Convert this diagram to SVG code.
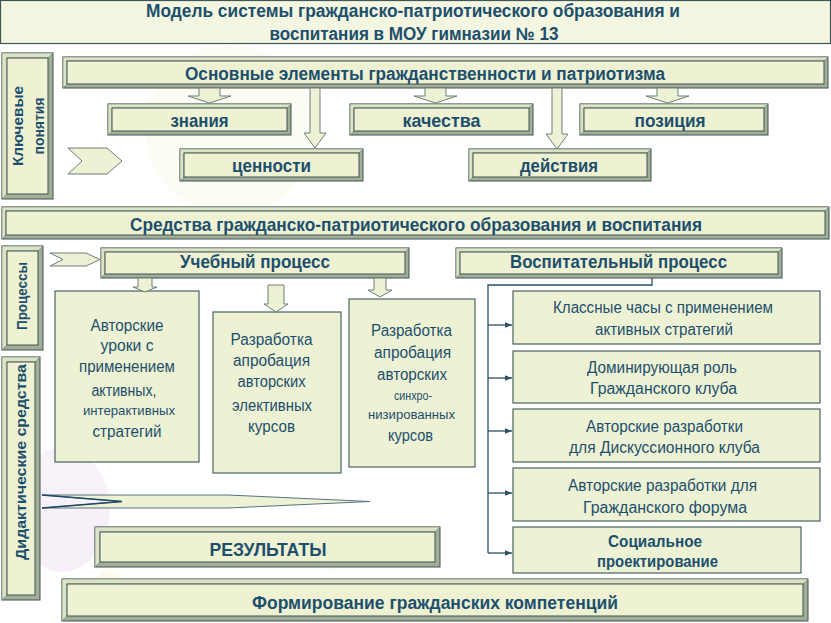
<svg xmlns="http://www.w3.org/2000/svg" width="831" height="623" viewBox="0 0 831 623">
<defs>
<style>
.bo{fill:#a3ae96;stroke:#3e5252;stroke-width:1}
.bl{fill:#dbe3c4;stroke:#6b7a70;stroke-width:0.6}
.bi{fill:#eef2d3;stroke:#3e5252;stroke-width:1}
.pb{fill:#eef2d4;stroke:#4c6262;stroke-width:1.2}
.ar{fill:#eef2d4;stroke:#6e7e7a;stroke-width:1}
.ln{fill:none;stroke:#2e4f66;stroke-width:1.3}
text{fill:#1d4f6d;text-anchor:middle}
.hn{font-family:'Liberation Sans Narrow','Liberation Sans',Arial,sans-serif;font-weight:bold}
.hb{font-family:'Liberation Sans',Arial,sans-serif;font-weight:bold}
.tn{font-family:'Liberation Sans Narrow','Liberation Sans',Arial,sans-serif;font-weight:normal}
</style>
<marker id="ah" viewBox="0 0 10 10" refX="10" refY="5" markerWidth="7" markerHeight="7" orient="auto" markerUnits="userSpaceOnUse">
<path d="M0,1 L10,5 L0,9 Z" fill="#2e4f66"/>
</marker>
</defs>
<rect x="0" y="0" width="831" height="623" fill="#ffffff"/>
<g id="decor" opacity="0.4">
<circle cx="230" cy="130" r="85" fill="#f6f8e2"/>
<ellipse cx="62" cy="510" rx="48" ry="62" fill="#eedcf2"/>
<circle cx="110" cy="585" r="14" fill="#fbf6cf"/>
<circle cx="330" cy="560" r="10" fill="#fbf6cf"/>
</g>

<g id="title">
<rect x="0.5" y="0.5" width="830" height="43" fill="#f3f6e0" stroke="#3e5656" stroke-width="1.2"/>
<text class="hn" x="413" y="17" font-size="18" textLength="534" lengthAdjust="spacingAndGlyphs">Модель системы гражданско-патриотического образования и</text>
<text class="hn" x="414" y="40" font-size="18" textLength="289" lengthAdjust="spacingAndGlyphs">воспитания в МОУ гимназии № 13</text>
</g>

<g id="klyuchevye">
<rect class="bo" x="2" y="53" width="51" height="146"/>
<polygon class="bl" points="2,53 53,53 48,58 7,58 7,194 2,199"/>
<rect class="bi" x="7" y="58" width="41" height="136"/>
<text class="hb" font-size="15" transform="translate(23,126) rotate(-90)" textLength="80" lengthAdjust="spacingAndGlyphs">Ключевые</text>
<text class="hb" font-size="15" transform="translate(44,126) rotate(-90)" textLength="57" lengthAdjust="spacingAndGlyphs">понятия</text>
</g>

<g id="osnovnye">
<rect class="bo" x="63" y="57" width="765" height="31"/>
<polygon class="bl" points="63,57 828,57 824,61 67,61 67,84 63,88"/>
<rect class="bi" x="67" y="61" width="757" height="23"/>
<text class="hn" x="425" y="80" font-size="18" textLength="480" lengthAdjust="spacingAndGlyphs">Основные элементы гражданственности и патриотизма</text>
</g>

<g id="znaniya">
<rect class="bo" x="108" y="104" width="183" height="31"/>
<polygon class="bl" points="108,104 291,104 287,108 112,108 112,131 108,135"/>
<rect class="bi" x="112" y="108" width="175" height="23"/>
<text class="hb" x="199.5" y="127" font-size="19" textLength="58" lengthAdjust="spacingAndGlyphs">знания</text>
</g>

<g id="kachestva">
<rect class="bo" x="350" y="104" width="183" height="31"/>
<polygon class="bl" points="350,104 533,104 529,108 354,108 354,131 350,135"/>
<rect class="bi" x="354" y="108" width="175" height="23"/>
<text class="hb" x="441.5" y="127" font-size="19" textLength="78" lengthAdjust="spacingAndGlyphs">качества</text>
</g>

<g id="poziciya">
<rect class="bo" x="580" y="104" width="188" height="31"/>
<polygon class="bl" points="580,104 768,104 764,108 584,108 584,131 580,135"/>
<rect class="bi" x="584" y="108" width="180" height="23"/>
<text class="hb" x="670" y="127" font-size="19" textLength="71" lengthAdjust="spacingAndGlyphs">позиция</text>
</g>

<g id="cennosti">
<rect class="bo" x="180" y="149" width="183" height="32"/>
<polygon class="bl" points="180,149 363,149 359,153 184,153 184,177 180,181"/>
<rect class="bi" x="184" y="153" width="175" height="24"/>
<text class="hb" x="271.5" y="172" font-size="19" textLength="79" lengthAdjust="spacingAndGlyphs">ценности</text>
</g>

<g id="deystviya">
<rect class="bo" x="469" y="149" width="182" height="32"/>
<polygon class="bl" points="469,149 651,149 647,153 473,153 473,177 469,181"/>
<rect class="bi" x="473" y="153" width="174" height="24"/>
<text class="hb" x="559" y="172" font-size="19" textLength="78" lengthAdjust="spacingAndGlyphs">действия</text>
</g>

<g id="sredstva">
<rect class="bo" x="2" y="207" width="827" height="32"/>
<polygon class="bl" points="2,207 829,207 825,211 6,211 6,235 2,239"/>
<rect class="bi" x="6" y="211" width="819" height="24"/>
<text class="hb" x="416" y="231" font-size="19" textLength="572" lengthAdjust="spacingAndGlyphs">Средства гражданско-патриотического образования и воспитания</text>
</g>

<g id="processy">
<rect class="bo" x="2" y="246" width="41" height="104"/>
<polygon class="bl" points="2,246 43,246 38,251 7,251 7,345 2,350"/>
<rect class="bi" x="7" y="251" width="31" height="94"/>
<text class="hb" font-size="14" transform="translate(27,296) rotate(-90)" textLength="68" lengthAdjust="spacingAndGlyphs">Процессы</text>
</g>

<g id="uchebny">
<rect class="bo" x="101" y="248" width="308" height="30"/>
<polygon class="bl" points="101,248 409,248 405,252 105,252 105,274 101,278"/>
<rect class="bi" x="105" y="252" width="300" height="22"/>
<text class="hn" x="255" y="268" font-size="18" textLength="150" lengthAdjust="spacingAndGlyphs">Учебный процесс</text>
</g>

<g id="vospitatelny">
<rect class="bo" x="456" y="248" width="326" height="30"/>
<polygon class="bl" points="456,248 782,248 778,252 460,252 460,274 456,278"/>
<rect class="bi" x="460" y="252" width="318" height="22"/>
<text class="hn" x="618.5" y="268" font-size="18" textLength="217" lengthAdjust="spacingAndGlyphs">Воспитательный процесс</text>
</g>

<g id="didakticheskie">
<rect class="bo" x="2" y="357" width="38" height="243"/>
<polygon class="bl" points="2,357 40,357 35,362 7,362 7,595 2,600"/>
<rect class="bi" x="7" y="362" width="28" height="233"/>
<text class="hb" font-size="14" transform="translate(26,462) rotate(-90)" textLength="196" lengthAdjust="spacingAndGlyphs">Дидактические средства</text>
</g>

<g id="avtorskie-uroki">
<rect class="pb" x="55" y="291" width="144" height="171"/>
<text class="tn" x="127" y="331" font-size="16" textLength="73" lengthAdjust="spacingAndGlyphs">Авторские</text>
<text class="tn" x="127" y="351" font-size="16" textLength="53" lengthAdjust="spacingAndGlyphs">уроки с</text>
<text class="tn" x="127" y="372" font-size="16" textLength="96" lengthAdjust="spacingAndGlyphs">применением</text>
<text class="tn" x="124" y="396" font-size="16" textLength="65" lengthAdjust="spacingAndGlyphs">активных,</text>
<text class="tn" x="129" y="415" font-size="13" textLength="92" lengthAdjust="spacingAndGlyphs">интерактивных</text>
<text class="tn" x="127" y="437" font-size="16" textLength="69" lengthAdjust="spacingAndGlyphs">стратегий</text>
</g>

<g id="elektivnye">
<rect class="pb" x="213" y="312" width="128" height="161"/>
<text class="tn" x="271.5" y="345" font-size="16" textLength="82" lengthAdjust="spacingAndGlyphs">Разработка</text>
<text class="tn" x="271.5" y="366" font-size="16" textLength="77" lengthAdjust="spacingAndGlyphs">апробация</text>
<text class="tn" x="271.5" y="387" font-size="16" textLength="68" lengthAdjust="spacingAndGlyphs">авторских</text>
<text class="tn" x="272" y="411" font-size="16" textLength="80" lengthAdjust="spacingAndGlyphs">элективных</text>
<text class="tn" x="271.5" y="432" font-size="16" textLength="47" lengthAdjust="spacingAndGlyphs">курсов</text>
</g>

<g id="sinhronizirovannye">
<rect class="pb" x="349" y="299" width="126" height="168"/>
<text class="tn" x="411.5" y="336" font-size="16" textLength="81" lengthAdjust="spacingAndGlyphs">Разработка</text>
<text class="tn" x="412.5" y="358" font-size="16" textLength="77" lengthAdjust="spacingAndGlyphs">апробация</text>
<text class="tn" x="412" y="380" font-size="16" textLength="70" lengthAdjust="spacingAndGlyphs">авторских</text>
<text class="tn" x="413" y="400" font-size="13" textLength="38" lengthAdjust="spacingAndGlyphs">синхро-</text>
<text class="tn" x="411.5" y="419" font-size="13" textLength="87" lengthAdjust="spacingAndGlyphs">низированных</text>
<text class="tn" x="410.5" y="441" font-size="16" textLength="45" lengthAdjust="spacingAndGlyphs">курсов</text>
</g>

<g id="klassnye-chasy">
<rect class="pb" x="513" y="291" width="307" height="53"/>
<text class="tn" x="663" y="313" font-size="16" textLength="220" lengthAdjust="spacingAndGlyphs">Классные часы с применением</text>
<text class="tn" x="664" y="335" font-size="16" textLength="138" lengthAdjust="spacingAndGlyphs">активных стратегий</text>
</g>

<g id="dominiruyushchaya">
<rect class="pb" x="513" y="351" width="307" height="52"/>
<text class="tn" x="662" y="373" font-size="16" textLength="150" lengthAdjust="spacingAndGlyphs">Доминирующая роль</text>
<text class="tn" x="663.5" y="394" font-size="16" textLength="147" lengthAdjust="spacingAndGlyphs">Гражданского клуба</text>
</g>

<g id="diskussionny">
<rect class="pb" x="513" y="409" width="307" height="53"/>
<text class="tn" x="664.5" y="432" font-size="16" textLength="157" lengthAdjust="spacingAndGlyphs">Авторские разработки</text>
<text class="tn" x="664.5" y="453" font-size="16" textLength="191" lengthAdjust="spacingAndGlyphs">для Дискуссионного клуба</text>
</g>

<g id="forum">
<rect class="pb" x="513" y="468" width="307" height="53"/>
<text class="tn" x="662.5" y="491" font-size="16" textLength="189" lengthAdjust="spacingAndGlyphs">Авторские разработки для</text>
<text class="tn" x="665" y="513" font-size="16" textLength="164" lengthAdjust="spacingAndGlyphs">Гражданского форума</text>
</g>

<g id="socialnoe">
<rect class="pb" x="513" y="527" width="288" height="46"/>
<text class="hn" x="655" y="547" font-size="17" textLength="94" lengthAdjust="spacingAndGlyphs">Социальное</text>
<text class="hn" x="657.5" y="567" font-size="17" textLength="121" lengthAdjust="spacingAndGlyphs">проектирование</text>
</g>

<g id="rezultaty">
<rect class="bo" x="95" y="527" width="345" height="40"/>
<polygon class="bl" points="95,527 440,527 435,532 100,532 100,562 95,567"/>
<rect class="bi" x="100" y="532" width="335" height="30"/>
<text class="hn" x="268" y="556" font-size="18" textLength="117" lengthAdjust="spacingAndGlyphs">РЕЗУЛЬТАТЫ</text>
</g>

<g id="formirovanie">
<rect class="bo" x="62" y="579" width="746" height="42"/>
<polygon class="bl" points="62,579 808,579 803,584 67,584 67,616 62,621"/>
<rect class="bi" x="67" y="584" width="736" height="32"/>
<text class="hn" x="435" y="609" font-size="18" textLength="366" lengthAdjust="spacingAndGlyphs">Формирование гражданских компетенций</text>
</g>

<g id="connectors">
<polygon class="ar" points="199,88 220,88 220,96 231,96 209.5,103 188,96 199,96"/>
<polygon class="ar" points="425,88 446,88 446,96 457,96 435.5,103 414,96 425,96"/>
<polygon class="ar" points="657,88 678,88 678,96 689,96 667.5,103 646,96 657,96"/>
<polygon class="ar" points="310,88 320,88 320,133 326,133 315,148 304,133 310,133"/>
<polygon class="ar" points="552,88 562,88 562,134 568,134 557,149 546,134 552,134"/>
<polygon class="ar" points="138,278 152,278 152,287 157,287 145,292 133,287 138,287"/>
<polygon class="ar" points="268,285 284,285 284,304 288,304 276,312 264,304 268,304"/>
<polygon class="ar" points="374,278 386,278 386,290 392,290 380,297 368,290 374,290"/>
<polygon class="ar" points="68,148 107,148 122,161 107,174 68,174 82,161"/>
<polygon class="ar" points="50,253 86,253 100,259.5 86,266 50,266 63,259.5"/>
<polygon fill="#eef2d4" stroke="#5a7080" stroke-width="1" points="42,495 228,495 370,501.5 228,508 42,508 122,501.5"/>
<path d="M42,495 L122,501.5 L42,508" fill="none" stroke="#1d4a66" stroke-width="1.4"/>
<path class="ln" d="M652,278 V285 H488 V553"/>
<path class="ln" d="M488,325 H512" marker-end="url(#ah)"/>
<path class="ln" d="M488,378 H512" marker-end="url(#ah)"/>
<path class="ln" d="M488,431 H512" marker-end="url(#ah)"/>
<path class="ln" d="M488,493 H512" marker-end="url(#ah)"/>
<path class="ln" d="M488,553 H512" marker-end="url(#ah)"/>
</g>
</svg>
